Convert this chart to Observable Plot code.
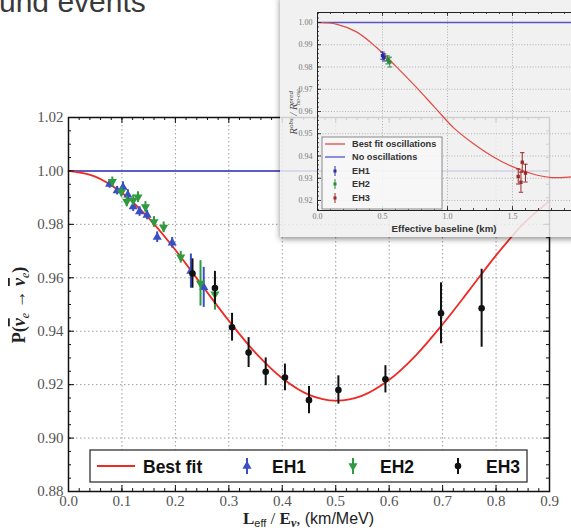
<!DOCTYPE html>
<html>
<head>
<meta charset="utf-8">
<script src="https://cdn.jsdelivr.net/npm/d3@7"></script>
<script src="https://cdn.jsdelivr.net/npm/@observablehq/plot@0.6"></script>
<style>
  html, body { margin: 0; padding: 0; background: #fff; overflow: hidden; }
  #stage { position: relative; width: 571px; height: 530px; overflow: hidden; }
  #main { position: absolute; left: 0; top: 0; }
  #inset {
    position: absolute; left: 280px; top: -4px; width: 330px; height: 241px;
    background: rgba(239, 239, 239, 0.86);
    box-shadow: 0 2px 6px rgba(0, 0, 0, 0.45);
  }
  #inset svg { position: absolute; left: 0; top: 4px; }
</style>
</head>
<body>
<div id="stage">
  <div id="main"></div>
  <div id="inset"></div>
</div>
<script>
// ---------- survival probability vs L/E ----------
const fitL = [0, 0.05, 0.10, 0.15, 0.20, 0.25, 0.30, 0.35, 0.40, 0.45, 0.50, 0.55, 0.60, 0.65, 0.70, 0.75, 0.80, 0.85, 0.90];
const fitP = [1.0000, 0.9979, 0.9918, 0.9823, 0.9704, 0.9571, 0.9439, 0.9319, 0.9224, 0.9162, 0.9140, 0.9159, 0.9218, 0.9310, 0.9426, 0.9554, 0.9684, 0.9800, 0.9888];
const noOscP = 1.0;

const eh1L   = [0.077, 0.091, 0.102, 0.111, 0.121, 0.133, 0.147, 0.166, 0.194, 0.229, 0.253];
const eh1P   = [0.9951, 0.9926, 0.9939, 0.9910, 0.9866, 0.9848, 0.9835, 0.9752, 0.9731, 0.9625, 0.9564];
const eh1Err = [0.0016, 0.0016, 0.0020, 0.0020, 0.0018, 0.0018, 0.0018, 0.0020, 0.0020, 0.0064, 0.0075];

const eh2L   = [0.082, 0.099, 0.109, 0.121, 0.130, 0.144, 0.160, 0.178, 0.210, 0.247, 0.274];
const eh2P   = [0.9960, 0.9921, 0.9886, 0.9890, 0.9902, 0.9865, 0.9809, 0.9789, 0.9677, 0.9579, 0.9539];
const eh2Err = [0.0017, 0.0018, 0.0020, 0.0020, 0.0020, 0.0020, 0.0020, 0.0020, 0.0022, 0.0085, 0.0060];

const eh3L   = [0.232, 0.274, 0.306, 0.337, 0.369, 0.405, 0.450, 0.505, 0.593, 0.697, 0.773];
const eh3P   = [0.9616, 0.9562, 0.9415, 0.9320, 0.9248, 0.9227, 0.9142, 0.9180, 0.9220, 0.9467, 0.9486];
const eh3Err = [0.0055, 0.0062, 0.0052, 0.0056, 0.0052, 0.0050, 0.0051, 0.0053, 0.0051, 0.0114, 0.0146];

const xMajor = [0.0, 0.1, 0.2, 0.3, 0.4, 0.5, 0.6, 0.7, 0.8, 0.9];
const yMajor = [0.88, 0.90, 0.92, 0.94, 0.96, 0.98, 1.00, 1.02];
const xGrid = [0.1, 0.2, 0.3, 0.4, 0.5, 0.6, 0.7, 0.8];
const yGrid = [0.90, 0.92, 0.94, 0.96, 0.98];
const legendLabels = ["Best fit", "EH1", "EH2", "EH3"];

// ---------- inset: ratio vs effective baseline ----------
const insetFitKm = [0, 0.15, 0.30, 0.45, 0.60, 0.75, 0.90, 1.05, 1.20, 1.35, 1.50, 1.65, 1.80, 1.95, 2.00];
const insetFitR  = [1.0000, 0.9992, 0.9958, 0.9890, 0.9805, 0.9715, 0.9620, 0.9525, 0.9455, 0.9397, 0.9352, 0.9320, 0.9303, 0.9306, 0.9309];
const insetNoOsc = 1.0;
const insetEh1Km = [0.500, 0.512];
const insetEh1R  = [0.9851, 0.9843];
const insetEh1Err = [0.0016, 0.0016];
const insetEh2Km = [0.539, 0.556];
const insetEh2R  = [0.9832, 0.9822];
const insetEh2Err = [0.0018, 0.0022];
const insetEh3Km = [1.544, 1.565, 1.575, 1.600];
const insetEh3R  = [0.9308, 0.9282, 0.9372, 0.9323];
const insetEh3Err = [0.0034, 0.0045, 0.0043, 0.0040];
const insetXMajor = [0.0, 0.5, 1.0, 1.5, 2.0];
const insetXLabels = [0.0, 0.5, 1.0, 1.5];
const insetYMajor = [0.92, 0.93, 0.94, 0.95, 0.96, 0.97, 0.98, 0.99, 1.00];
const insetLegendLabels = ["Best fit oscillations", "No oscillations", "EH1", "EH2", "EH3"];

// ---------- helpers ----------
const zip = (xs, ys, es) => xs.map((x, i) => ({x, y: ys[i], e: es ? es[i] : 0}));
const fit = zip(fitL, fitP);
const eh1 = zip(eh1L, eh1P, eh1Err);
const eh2 = zip(eh2L, eh2P, eh2Err);
const eh3 = zip(eh3L, eh3P, eh3Err);

const RED = "#ee2a24", BLUE_LINE = "#5b5bcc", BLUE = "#3a4fc2", GREEN = "#2f9a40", BLACK = "#111";
const serif = "Liberation Serif, DejaVu Serif, serif";
const sans = "Liberation Sans, Arial, sans-serif";

const W = 571, H = 530, mL = 68, mR = 22, mT = 117, mB = 39;
const plotW = W - mL - mR, plotH = H - mT - mB;
const xMinor = d3.range(0, 0.9001, 0.02);
const yMinor = d3.range(0.88, 1.0201, 0.005);

function errMarks(data, color, symbol, rotate) {
  return [
    Plot.ruleX(data, {x: "x", y1: d => d.y - d.e, y2: d => d.y + d.e, stroke: color, strokeWidth: 2}),
    Plot.dot(data, {x: "x", y: "y", symbol, rotate, r: symbol === "circle" ? 3.3 : 3.4, fill: color, stroke: "none"})
  ];
}

const main = Plot.plot({
  width: W, height: H,
  marginTop: mT, marginRight: mR, marginBottom: mB, marginLeft: mL,
  style: {background: "transparent", overflow: "visible"},
  x: {domain: [0, 0.9]},
  y: {domain: [0.88, 1.02]},
  marks: [
    Plot.ruleX(xGrid, {x: d => d, stroke: "#9c9c9c", strokeWidth: 1, strokeDasharray: "1.5,2.5"}),
    Plot.ruleY(yGrid, {y: d => d, stroke: "#9c9c9c", strokeWidth: 1, strokeDasharray: "1.5,2.5"}),
    Plot.ruleY([noOscP], {y: d => d, stroke: BLUE_LINE, strokeWidth: 2}),
    Plot.line(fit, {x: "x", y: "y", curve: "catmull-rom", stroke: RED, strokeWidth: 1.8}),
    ...errMarks(eh1, BLUE, "triangle", 0),
    ...errMarks(eh2, GREEN, "triangle", 180),
    ...errMarks(eh3, BLACK, "circle", 0),
    Plot.frame({stroke: "#111", strokeWidth: 1.5}),
    // inward ticks on all four sides
    Plot.tickX(xMajor, {x: d => d, insetTop: plotH - 6, stroke: "#111"}),
    Plot.tickX(xMajor, {x: d => d, insetBottom: plotH - 6, stroke: "#111"}),
    Plot.tickX(xMinor, {x: d => d, insetTop: plotH - 3, stroke: "#111"}),
    Plot.tickX(xMinor, {x: d => d, insetBottom: plotH - 3, stroke: "#111"}),
    Plot.tickY(yMajor, {y: d => d, insetRight: plotW - 6, stroke: "#111"}),
    Plot.tickY(yMajor, {y: d => d, insetLeft: plotW - 6, stroke: "#111"}),
    Plot.tickY(yMinor, {y: d => d, insetRight: plotW - 3, stroke: "#111"}),
    Plot.tickY(yMinor, {y: d => d, insetLeft: plotW - 3, stroke: "#111"}),
    Plot.axisX(xMajor, {anchor: "bottom", tickSize: 0, tickPadding: 4, tickFormat: d3.format(".1f"),
      fontFamily: serif, fontSize: 15, fill: "#555", label: null}),
    Plot.axisY(yMajor, {anchor: "left", tickSize: 0, tickPadding: 5, tickFormat: d3.format(".2f"),
      fontFamily: serif, fontSize: 15, fill: "#555", label: null})
  ]
});
document.getElementById("main").appendChild(main);

const svg = d3.select(main);

// heading fragment at the top of the slide
svg.append("text").attr("x", -1).attr("y", 11.5).attr("text-anchor", "start")
  .attr("font-family", sans).attr("font-size", 30).attr("fill", "#3a3a3a")
  .text("und events");

// y-axis title
const yt = svg.append("text")
  .attr("transform", `translate(25,${mT + plotH / 2 + 1}) rotate(-90)`)
  .attr("text-anchor", "middle").attr("font-family", serif).attr("font-size", 18).attr("fill", "#222");
yt.append("tspan").attr("font-weight", "bold").text("P(");
yt.append("tspan").attr("font-style", "italic").attr("font-weight", "bold").attr("text-decoration", "overline").text("ν");
yt.append("tspan").attr("font-style", "italic").attr("font-size", 12).attr("dy", 4).text("e");
yt.append("tspan").attr("dy", -4).text(" → ");
yt.append("tspan").attr("font-style", "italic").attr("font-weight", "bold").attr("text-decoration", "overline").text("ν");
yt.append("tspan").attr("font-style", "italic").attr("font-size", 12).attr("dy", 4).text("e");
yt.append("tspan").attr("dy", -4).attr("font-weight", "bold").text(")");

// x-axis title
const xt = svg.append("text")
  .attr("x", mL + plotW / 2).attr("y", 524)
  .attr("text-anchor", "middle").attr("font-size", 17).attr("fill", "#222");
xt.append("tspan").attr("font-family", serif).attr("font-weight", "bold").text("L");
xt.append("tspan").attr("font-family", sans).attr("font-size", 11).attr("dy", 3).text("eff");
xt.append("tspan").attr("font-family", serif).attr("dy", -3).text(" / ");
xt.append("tspan").attr("font-family", serif).attr("font-weight", "bold").text("E");
xt.append("tspan").attr("font-family", serif).attr("font-style", "italic").attr("font-weight", "bold").attr("font-size", 12).attr("dy", 3).text("ν");
xt.append("tspan").attr("font-family", serif).attr("dy", -3).text(", ");
xt.append("tspan").attr("font-family", sans).attr("font-size", 16).text("(km/MeV)");

// legend box inside the frame
const lg = svg.append("g").attr("text-anchor", "start");
const lgX = mL + 22, lgY = 450, lgW = 437, lgH = 32, lgMid = lgY + lgH / 2;
lg.append("rect").attr("x", lgX).attr("y", lgY).attr("width", lgW).attr("height", lgH)
  .attr("fill", "#fff").attr("stroke", "#333").attr("stroke-width", 1.3);
lg.append("line").attr("x1", lgX + 7).attr("x2", lgX + 45).attr("y1", lgMid).attr("y2", lgMid)
  .attr("stroke", RED).attr("stroke-width", 1.8);
const entries = [
  {label: legendLabels[0], tx: lgX + 53},
  {label: legendLabels[1], mx: 247, tx: 272, color: BLUE, sym: d3.symbolTriangle, rot: 0},
  {label: legendLabels[2], mx: 353, tx: 380, color: GREEN, sym: d3.symbolTriangle, rot: 180},
  {label: legendLabels[3], mx: 458, tx: 486, color: BLACK, sym: d3.symbolCircle, rot: 0}
];
for (const e of entries) {
  if (e.mx) {
    lg.append("line").attr("x1", e.mx).attr("x2", e.mx).attr("y1", lgMid - 8).attr("y2", lgMid + 8)
      .attr("stroke", e.color).attr("stroke-width", 2);
    lg.append("path").attr("d", d3.symbol(e.sym, e.sym === d3.symbolCircle ? 34 : 36)())
      .attr("transform", `translate(${e.mx},${lgMid}) rotate(${e.rot})`).attr("fill", e.color);
  }
  lg.append("text").attr("x", e.tx).attr("y", lgMid + 6.5)
    .attr("font-family", sans).attr("font-weight", "bold").attr("font-size", 17.5).attr("fill", "#111")
    .text(e.label);
}

// ---------- inset ----------
const IW = 330, IH = 237, iL = 37, iT = 12, iB = 27, iR = IW - iL - 260;
const iPlotW = IW - iL - iR, iPlotH = IH - iT - iB;
const IRED = "#e04a44", IBLUE_LINE = "#5656c4", IBLUE = "#2c2c9c", IGREEN = "#2a8a3a", IEH3 = "#9b2a2a";
const capSymbol = {draw(ctx, size) { const r = Math.sqrt(size / Math.PI); ctx.moveTo(-r, 0); ctx.lineTo(r, 0); }};
const iFit = zip(insetFitKm, insetFitR);
const iEh1 = zip(insetEh1Km, insetEh1R, insetEh1Err);
const iEh2 = zip(insetEh2Km, insetEh2R, insetEh2Err);
const iEh3 = zip(insetEh3Km, insetEh3R, insetEh3Err);
function iErr(data, color) {
  return [
    Plot.ruleX(data, {x: "x", y1: d => d.y - d.e, y2: d => d.y + d.e, stroke: color, strokeWidth: 1}),
    Plot.dot(data, {x: "x", y: d => d.y - d.e, symbol: capSymbol, r: 2.2, stroke: color, strokeWidth: 1}),
    Plot.dot(data, {x: "x", y: d => d.y + d.e, symbol: capSymbol, r: 2.2, stroke: color, strokeWidth: 1}),
    Plot.dot(data, {x: "x", y: "y", symbol: "square", r: 1.9, fill: color, stroke: "none"})
  ];
}
const iXMinor = d3.range(0, 2.0001, 0.1);
const iYMinor = d3.range(0.916, 1.0041, 0.002);

const inset = Plot.plot({
  width: IW, height: IH,
  marginTop: iT, marginRight: iR, marginBottom: iB, marginLeft: iL,
  style: {background: "transparent", overflow: "visible"},
  x: {domain: [0, 2.0]},
  y: {domain: [0.9155, 1.0045]},
  marks: [
    Plot.ruleX([0.5, 1.0, 1.5], {x: d => d, stroke: "#a0a0a0", strokeWidth: 0.8, strokeDasharray: "1,1.8"}),
    Plot.ruleY(insetYMajor.slice(0, -1), {y: d => d, stroke: "#a0a0a0", strokeWidth: 0.8, strokeDasharray: "1,1.8"}),
    Plot.ruleY([insetNoOsc], {y: d => d, stroke: IBLUE_LINE, strokeWidth: 1.6}),
    Plot.line(iFit, {x: "x", y: "y", curve: "catmull-rom", stroke: IRED, strokeWidth: 1.2}),
    ...iErr(iEh1, IBLUE),
    ...iErr(iEh2, IGREEN),
    ...iErr(iEh3, IEH3),
    Plot.frame({stroke: "#222", strokeWidth: 1}),
    Plot.tickX(insetXMajor, {x: d => d, insetTop: iPlotH - 4, stroke: "#222", strokeWidth: 0.8}),
    Plot.tickX(insetXMajor, {x: d => d, insetBottom: iPlotH - 4, stroke: "#222", strokeWidth: 0.8}),
    Plot.tickX(iXMinor, {x: d => d, insetTop: iPlotH - 2, stroke: "#222", strokeWidth: 0.8}),
    Plot.tickX(iXMinor, {x: d => d, insetBottom: iPlotH - 2, stroke: "#222", strokeWidth: 0.8}),
    Plot.tickY(insetYMajor, {y: d => d, insetRight: iPlotW - 4, stroke: "#222", strokeWidth: 0.8}),
    Plot.tickY(iYMinor, {y: d => d, insetRight: iPlotW - 2, stroke: "#222", strokeWidth: 0.8}),
    Plot.axisX(insetXLabels, {anchor: "bottom", tickSize: 0, tickPadding: 3, tickFormat: d3.format(".1f"),
      fontFamily: serif, fontSize: 8, fill: "#777", label: null}),
    Plot.axisY(insetYMajor, {anchor: "left", tickSize: 0, tickPadding: 5, tickFormat: d3.format(".2f"),
      fontFamily: serif, fontSize: 8, fill: "#777", label: null})
  ]
});
document.getElementById("inset").appendChild(inset);

const isvg = d3.select(inset);
// inset axis titles
const iyt = isvg.append("text")
  .attr("transform", `translate(17,${iT + iPlotH / 2}) rotate(-90)`)
  .attr("text-anchor", "middle").attr("font-family", serif).attr("font-size", 10.5).attr("fill", "#444")
  .attr("font-style", "italic");
iyt.append("tspan").text("R");
iyt.append("tspan").attr("font-size", 7).attr("dy", -4).text("obs");
iyt.append("tspan").attr("dy", 4).text(" / R");
iyt.append("tspan").attr("font-size", 7).attr("dy", -4).text("pred");
iyt.append("tspan").attr("font-size", 6).attr("dx", -14).attr("dy", 7).text("no-osc.");
isvg.append("text").attr("x", iL + iPlotW / 2 - 3).attr("y", 231.5).attr("text-anchor", "middle")
  .attr("font-family", sans).attr("font-weight", "bold").attr("font-size", 9.7).attr("fill", "#333")
  .text("Effective baseline (km)");

// inset legend
const il = isvg.append("g").attr("text-anchor", "start");
const ilX = 42, ilY = 137, rowY = [144, 157, 171, 184, 198];
il.append("rect").attr("x", ilX).attr("y", ilY).attr("width", 120).attr("height", 72)
  .attr("fill", "rgba(248,248,248,0.85)").attr("stroke", "#8a8a8a").attr("stroke-width", 1);
const iEntries = [
  {label: insetLegendLabels[0], kind: "line", color: IRED},
  {label: insetLegendLabels[1], kind: "line", color: IBLUE_LINE},
  {label: insetLegendLabels[2], kind: "err", color: IBLUE},
  {label: insetLegendLabels[3], kind: "err", color: IGREEN},
  {label: insetLegendLabels[4], kind: "err", color: IEH3}
];
iEntries.forEach((e, i) => {
  const y = rowY[i];
  if (e.kind === "line") {
    il.append("line").attr("x1", 45).attr("x2", 65).attr("y1", y).attr("y2", y)
      .attr("stroke", e.color).attr("stroke-width", 1.3);
  } else {
    il.append("line").attr("x1", 55).attr("x2", 55).attr("y1", y - 5).attr("y2", y + 5)
      .attr("stroke", e.color).attr("stroke-width", 1);
    il.append("rect").attr("x", 53.5).attr("y", y - 1.5).attr("width", 3).attr("height", 3).attr("fill", e.color);
  }
  il.append("text").attr("x", 72).attr("y", y + 3.3)
    .attr("font-family", sans).attr("font-weight", "bold").attr("font-size", 9.2).attr("fill", "#333")
    .text(e.label);
});
</script>
</body>
</html>
